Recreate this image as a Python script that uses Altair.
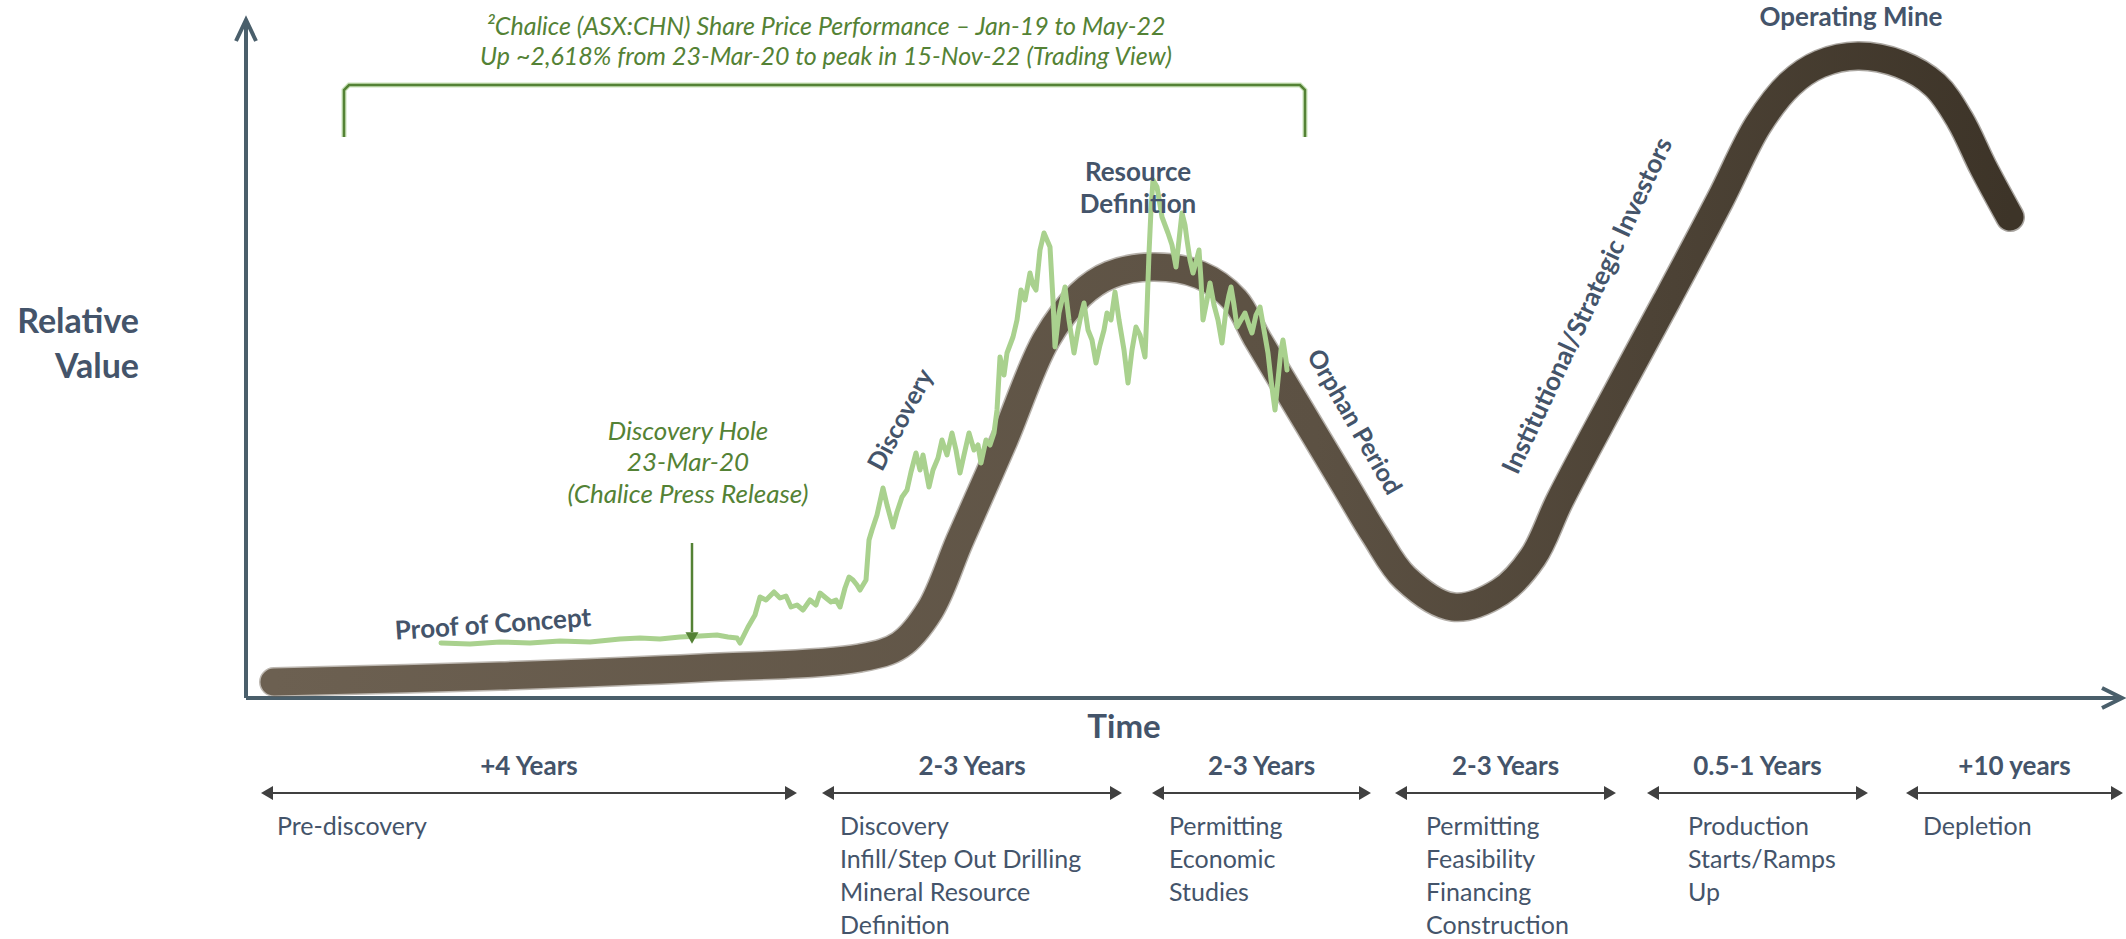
import altair as alt
import pandas as pd

W, H = 2126, 939
# time runs right from the axis origin, relative value runs up from it
X_DOMAIN = [-246, 1880]
Y_DOMAIN = [-241, 698]

SLATE = "#44546a"
AXIS_COL = "#4a5f6b"
GREEN_DARK = "#548235"
GREEN_LIGHT = "#a9d18e"
ARROW_GREY = "#404040"
FONT = "Lato"

# Lassonde curve: time vs relative value
curve_t = [28, 254, 454, 614, 654, 684, 714, 758, 800, 834, 864, 907, 954, 989, 1012,
           1054, 1099, 1129, 1159, 1207, 1254, 1287, 1314, 1367, 1421, 1474, 1512, 1544,
           1574, 1612, 1654, 1689, 1714, 1737, 1764]
curve_v = [16, 22, 30, 40, 53, 88, 158, 258, 358, 403, 423, 431, 423, 398, 358,
           288, 213, 163, 120, 91, 106, 141, 198, 298, 398, 498, 573, 614,
           634, 642, 634, 613, 578, 531, 481]

# Chalice (ASX:CHN) share price, rescaled onto the same frame
price_t = [195, 224, 254, 284, 314, 344, 374, 394, 414, 434, 454, 471, 482, 491, 494, 502, 509,
           514, 520, 528, 534, 540, 545, 551, 557, 564, 570, 574, 580, 585, 590, 594, 599, 603,
           607, 611, 614, 620, 623, 626, 631, 637, 641, 647, 651, 656, 661, 665, 670, 674, 677,
           683, 687, 692, 696, 701, 706, 710, 714, 718, 723, 728, 732, 735, 740, 744, 748, 751,
           754, 758, 761, 764, 767, 771, 775, 779, 784, 787, 790, 794, 798, 801, 804, 807, 809,
           813, 816, 819, 823, 828, 832, 835, 838, 842, 846, 850, 854, 858, 861, 865, 869, 873,
           878, 882, 886, 890, 894, 899, 901, 903, 905, 907, 911, 914, 916, 919, 922, 926, 930,
           933, 936, 939, 941, 944, 947, 950, 953, 955, 957, 961, 964, 968, 972, 976, 980, 983,
           985, 988, 991, 995, 999, 1003, 1006, 1010, 1014, 1018, 1022, 1025, 1029, 1032, 1035,
           1037, 1040, 1041]
price_v = [55, 54, 56, 55, 57, 56, 59, 60, 59, 61, 62, 63, 61, 60, 55, 71, 83,
           101, 98, 106, 100, 102, 91, 93, 88, 98, 93, 105, 100, 96, 98, 91, 110, 121,
           118, 113, 108, 118, 158, 168, 183, 210, 193, 171, 186, 201, 208, 226, 245, 228, 243,
           211, 228, 240, 258, 243, 265, 248, 225, 243, 265, 248, 253, 235, 258, 253, 265, 288,
           341, 323, 345, 353, 361, 378, 408, 398, 425, 413, 408, 448, 465, 458, 451, 398, 351,
           385, 398, 411, 378, 345, 368, 383, 395, 368, 358, 335, 353, 368, 385, 378, 406, 378,
           348, 315, 348, 371, 363, 341, 388, 445, 488, 518, 511, 493, 481, 473, 465, 453, 431,
           458, 485, 473, 458, 438, 425, 436, 448, 418, 378, 398, 415, 393, 378, 355, 388, 403,
           411, 393, 371, 378, 385, 373, 365, 383, 391, 368, 345, 318, 288, 318, 348,
           358, 338, 328]

# axes with open chevron heads
axis_seg = ["y", "y", "yh", "yh", "yh", "x", "x", "xh", "xh", "xh"]
axis_t = [0, 0, -10, 0, 10, 0, 1874, 1856, 1876, 1856]
axis_v = [0, 676, 657, 678, 657, 0, 0, 10, 0, -10]

# bracket over the share-price period
bracket_t = [98, 98, 103, 1054, 1059, 1059]
bracket_v = [561, 608, 613, 613, 608, 561]

# discovery hole pointer
pointer_t = [446, 446]
pointer_v = [155, 66]
pointer_head_t = [446]
pointer_head_v = [60]

# stage duration arrows
stage_start = [14, 575, 905, 1148, 1400, 1659]
stage_end = [552, 877, 1126, 1371, 1623, 1878]
stage_head = ["+4 Years", "2-3 Years", "2-3 Years", "2-3 Years", "0.5-1 Years", "+10 years"]
stage_desc = [
    ["Pre-discovery"],
    ["Discovery", "Infill/Step Out Drilling", "Mineral Resource", "Definition"],
    ["Permitting", "Economic", "Studies"],
    ["Permitting", "Feasibility", "Financing", "Construction"],
    ["Production", "Starts/Ramps", "Up"],
    ["Depletion"],
]
stage_desc_left = [31, 594, 923, 1180, 1442, 1677]
TIMELINE_V = -95
HEAD_V = -69
DESC_V = [-129, -162, -195, -228]

# curve annotations
note_text = ["Proof of Concept", "Discovery", "Resource", "Definition", "Orphan Period",
             "Institutional/Strategic Investors", "Operating Mine", "Time"]
note_t = [247, 655, 892, 892, 1108, 1342, 1605, 878]
note_v = [73, 278, 525, 493, 276, 392, 680, -30]
note_angle = [356, 298, 0, 0, 60, 295, 0, 0]
note_size = [26, 25, 26, 26, 25, 26, 26, 33]

ylabel_text = ["Relative", "Value"]
ylabel_t = [-107, -107]
ylabel_v = [375, 330]

green_text = ["\u00b2Chalice (ASX:CHN) Share Price Performance \u2013 Jan-19 to May-22",
              "Up ~2,618% from 23-Mar-20 to peak in 15-Nov-22 (Trading View)",
              "Discovery Hole", "23-Mar-20", "(Chalice Press Release)"]
green_t = [580, 580, 442, 442, 442]
green_v = [671, 641, 266, 235, 203]
green_size = [25, 25, 26, 26, 26]


def enc(**extra):
    return dict(
        x=alt.X("t:Q", scale=alt.Scale(domain=X_DOMAIN, nice=False, zero=False), axis=None),
        y=alt.Y("v:Q", scale=alt.Scale(domain=Y_DOMAIN, nice=False, zero=False), axis=None),
        **extra,
    )


curve_df = pd.DataFrame({"t": curve_t, "v": curve_v, "i": range(len(curve_t))})
price_df = pd.DataFrame({"t": price_t, "v": price_v, "i": range(len(price_t))})
axis_df = pd.DataFrame({"t": axis_t, "v": axis_v, "seg": axis_seg, "i": range(len(axis_t))})
bracket_df = pd.DataFrame({"t": bracket_t, "v": bracket_v, "i": range(len(bracket_t))})
pointer_df = pd.DataFrame({"t": pointer_t, "v": pointer_v})
pointer_head_df = pd.DataFrame({"t": pointer_head_t, "v": pointer_head_v})

tl_rows, tl_heads, head_rows, desc_rows = [], [], [], []
for k, (a, b) in enumerate(zip(stage_start, stage_end)):
    tl_rows += [{"t": a + 8, "v": TIMELINE_V, "seg": k}, {"t": b - 8, "v": TIMELINE_V, "seg": k}]
    tl_heads += [{"t": a + 7, "v": TIMELINE_V, "shape": "triangle-left"},
                 {"t": b - 7, "v": TIMELINE_V, "shape": "triangle-right"}]
    head_rows.append({"t": (a + b) / 2, "v": HEAD_V, "text": stage_head[k]})
    for j, line in enumerate(stage_desc[k]):
        desc_rows.append({"t": stage_desc_left[k], "v": DESC_V[j], "text": line})
tl_df = pd.DataFrame(tl_rows)
tl_head_df = pd.DataFrame(tl_heads)
head_df = pd.DataFrame(head_rows)
desc_df = pd.DataFrame(desc_rows)

note_df = pd.DataFrame({"t": note_t, "v": note_v, "text": note_text,
                        "angle": note_angle, "size": note_size})
ylabel_df = pd.DataFrame({"t": ylabel_t, "v": ylabel_v, "text": ylabel_text})
green_df = pd.DataFrame({"t": green_t, "v": green_v, "text": green_text, "size": green_size})

brown = alt.LinearGradient(
    gradient="linear",
    stops=[alt.GradientStop(color="#6c6051", offset=0),
           alt.GradientStop(color="#5c5143", offset=0.6),
           alt.GradientStop(color="#3d3428", offset=1)],
    x1=0, x2=1, y1=0, y2=0,
)

# soft edge under the main stroke
curve_halo = alt.Chart(curve_df).mark_line(
    color=brown, strokeWidth=30, opacity=0.45, interpolate="catmull-rom",
    strokeCap="round", strokeJoin="round"
).encode(**enc(order=alt.Order("i:Q")))

curve = alt.Chart(curve_df).mark_line(
    color=brown, strokeWidth=27, interpolate="catmull-rom",
    strokeCap="round", strokeJoin="round"
).encode(**enc(order=alt.Order("i:Q")))

price = alt.Chart(price_df).mark_line(
    color=GREEN_LIGHT, strokeWidth=5, strokeCap="round", strokeJoin="round"
).encode(**enc(order=alt.Order("i:Q")))

axes = alt.Chart(axis_df).mark_line(
    color=AXIS_COL, strokeWidth=4, strokeCap="butt", strokeJoin="miter"
).encode(**enc(detail="seg:N", order=alt.Order("i:Q")))

bracket_glow = alt.Chart(bracket_df).mark_line(
    color=GREEN_LIGHT, strokeWidth=5, opacity=0.6
).encode(**enc(order=alt.Order("i:Q")))

bracket = alt.Chart(bracket_df).mark_line(
    color=GREEN_DARK, strokeWidth=2.5
).encode(**enc(order=alt.Order("i:Q")))

pointer = alt.Chart(pointer_df).mark_line(color=GREEN_DARK, strokeWidth=2.5).encode(**enc())
pointer_head = alt.Chart(pointer_head_df).mark_point(
    shape="triangle-down", filled=True, color=GREEN_DARK, size=170, opacity=1
).encode(**enc())

timeline = alt.Chart(tl_df).mark_line(color=ARROW_GREY, strokeWidth=2).encode(**enc(detail="seg:N"))
timeline_heads = alt.Chart(tl_head_df).mark_point(
    filled=True, color=ARROW_GREY, size=190, opacity=1
).encode(**enc(shape=alt.Shape("shape:N", scale=None)))

heads = alt.Chart(head_df).mark_text(
    font=FONT, fontSize=26, fontWeight="bold", color=SLATE, baseline="middle", align="center"
).encode(**enc(text="text:N"))

descs = alt.Chart(desc_df).mark_text(
    font=FONT, fontSize=25, color=SLATE, baseline="middle", align="left"
).encode(**enc(text="text:N"))

notes = alt.Chart(note_df).mark_text(
    font=FONT, fontWeight="bold", color=SLATE, baseline="middle", align="center"
).encode(**enc(text="text:N",
               angle=alt.Angle("angle:Q", scale=None),
               size=alt.Size("size:Q", scale=None)))

ylabel = alt.Chart(ylabel_df).mark_text(
    font=FONT, fontSize=34, fontWeight="bold", color=SLATE, baseline="middle", align="right"
).encode(**enc(text="text:N"))

green_notes = alt.Chart(green_df).mark_text(
    font=FONT, fontStyle="italic", color=GREEN_DARK, baseline="middle", align="center"
).encode(**enc(text="text:N", size=alt.Size("size:Q", scale=None)))

chart = alt.layer(
    axes, bracket_glow, bracket, curve_halo, curve, price, pointer, pointer_head,
    timeline, timeline_heads, heads, descs, notes, ylabel, green_notes
).properties(
    width=W, height=H, padding=0,
    autosize=alt.AutoSizeParams(type="none"),
    background="white",
).configure_view(stroke=None)

chart.save("out.html", embed_options={"renderer": "svg", "actions": False})
